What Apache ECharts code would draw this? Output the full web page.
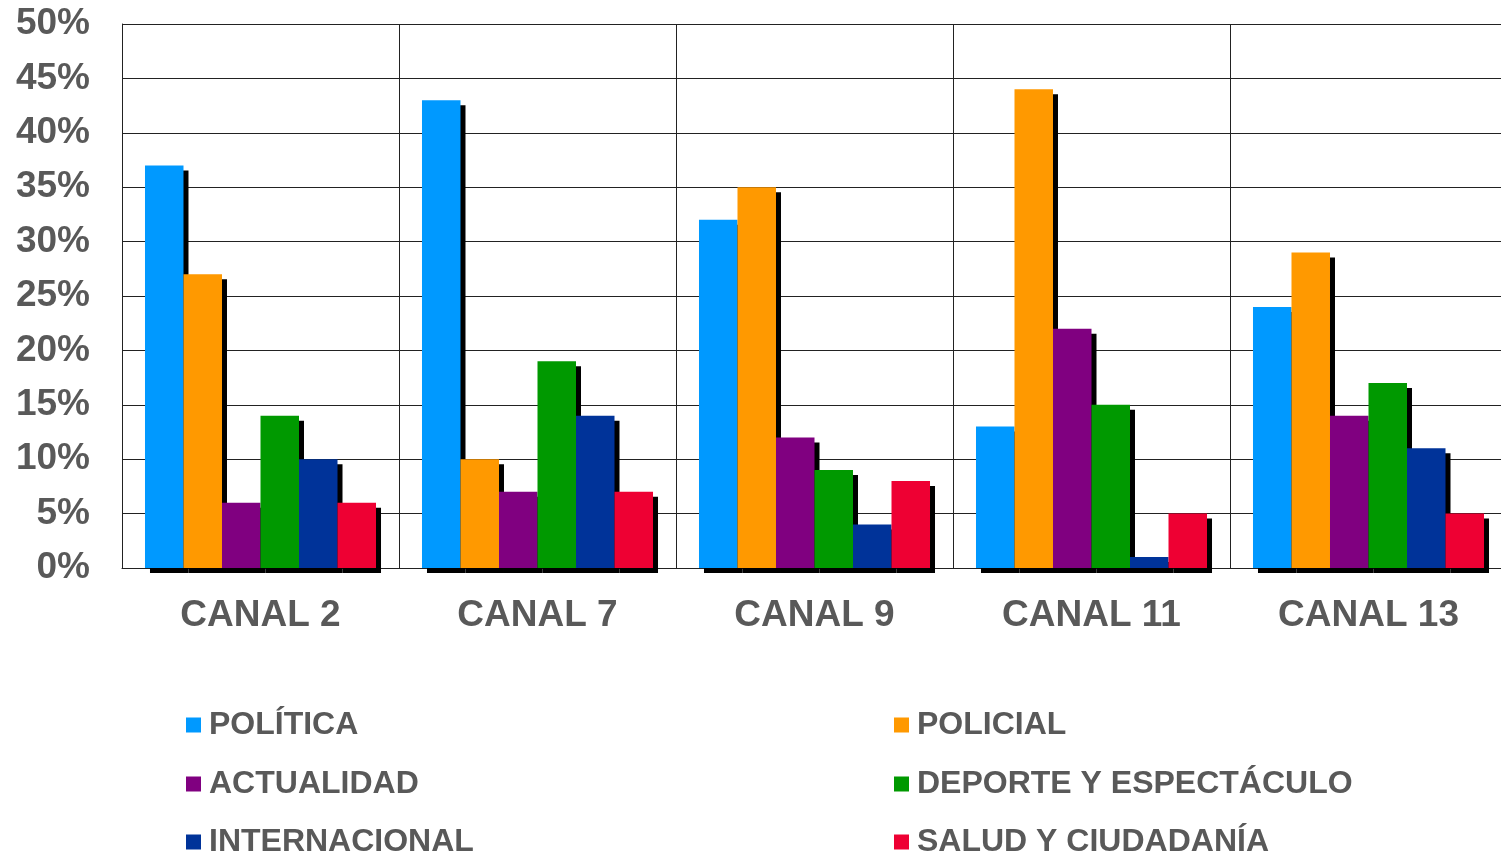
<!DOCTYPE html>
<html>
<head>
<meta charset="utf-8">
<script src="https://cdn.jsdelivr.net/npm/echarts@6/dist/echarts.min.js"></script>
<style>
html,body{margin:0;padding:0;background:#fff;}
#c{width:1501px;height:856px;}
</style>
</head>
<body>
<div id="c"></div>
<script>
const categories = ['CANAL 2', 'CANAL 7', 'CANAL 9', 'CANAL 11', 'CANAL 13'];
const seriesNames = ['POLÍTICA', 'POLICIAL', 'ACTUALIDAD', 'DEPORTE Y ESPECTÁCULO', 'INTERNACIONAL', 'SALUD Y CIUDADANÍA'];
const politica = [37, 43, 32, 13, 24];
const policial = [27, 10, 35, 44, 29];
const actualidad = [6, 7, 12, 22, 14];
const deporte = [14, 19, 9, 15, 17];
const internacional = [10, 14, 4, 1, 11];
const salud = [6, 7, 8, 5, 5];
const colors = ['#0099FF', '#FF9900', '#800080', '#009900', '#003399', '#EE0033'];

const values = [politica, policial, actualidad, deporte, internacional, salud];
const FONT = '"Liberation Sans", Arial, sans-serif';
const GREY = '#595959';

const legendText = {fontFamily: FONT, fontWeight: 'bold', fontSize: 32, color: GREY, lineHeight: 32, padding: [0, 0, 0, 3]};
const legendPos = [[186, 709], [894, 709], [186, 768], [894, 768], [186, 826], [894, 826]];
const legends = seriesNames.map((n, i) => ({
  data: [n], left: legendPos[i][0], top: legendPos[i][1], padding: 0,
  itemWidth: 15, itemHeight: 15, icon: 'rect', textStyle: legendText
}));

const chart = echarts.init(document.getElementById('c'), null, {renderer: 'canvas'});
chart.setOption({
  animation: false,
  color: colors,
  grid: {left: 122, right: -6, top: 24, bottom: 288, containLabel: false, outerBoundsMode: 'none'},
  legend: legends,
  xAxis: {
    type: 'category',
    data: categories,
    axisLine: {show: true, lineStyle: {color: '#222', width: 1}},
    axisTick: {show: false},
    splitLine: {show: true, lineStyle: {color: '#222', width: 1}},
    axisLabel: {fontFamily: FONT, fontWeight: 'bold', fontSize: 37, color: GREY, margin: 29}
  },
  yAxis: {
    type: 'value',
    min: 0, max: 50, interval: 5,
    axisLine: {show: true, lineStyle: {color: '#222', width: 1}},
    axisTick: {show: false},
    splitLine: {show: true, lineStyle: {color: '#222', width: 1}},
    axisLabel: {fontFamily: FONT, fontWeight: 'bold', fontSize: 37, color: GREY, margin: 32,
      formatter: v => v + '%'}
  },
  series: seriesNames.map((n, i) => ({
    name: n,
    type: 'bar',
    data: values[i],
    barGap: '0%',
    barCategoryGap: '16.6%',
    itemStyle: {color: colors[i], shadowColor: '#000', shadowBlur: 0, shadowOffsetX: 5, shadowOffsetY: 5}
  }))
});
</script>
</body>
</html>
